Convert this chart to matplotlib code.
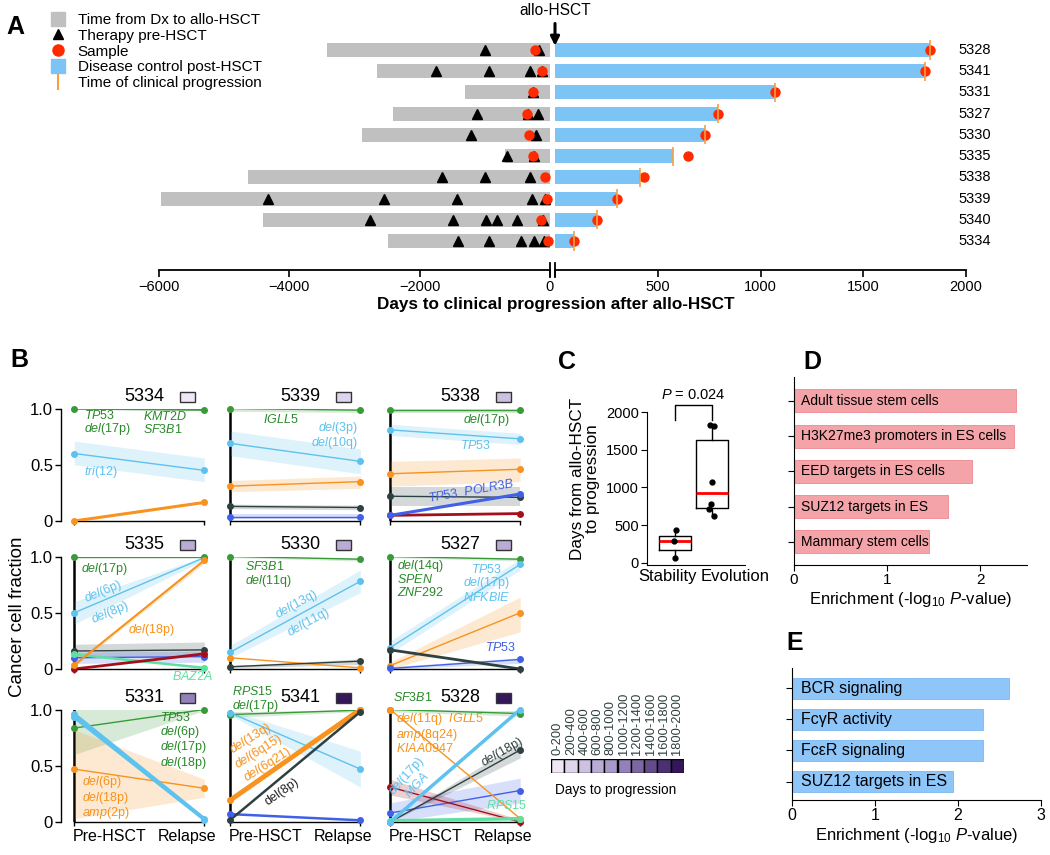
import numpy as np
import matplotlib
matplotlib.use('Agg')
import matplotlib.pyplot as plt
from matplotlib import font_manager
from matplotlib.lines import Line2D
from matplotlib.patches import Rectangle
from matplotlib.colors import LinearSegmentedColormap

plt.rcParams['font.family'] = ['Liberation Sans', 'DejaVu Sans']
plt.rcParams['mathtext.fontset'] = 'custom'
plt.rcParams['mathtext.rm'] = 'Liberation Sans'
plt.rcParams['mathtext.it'] = 'Liberation Sans:italic'
plt.rcParams['mathtext.bf'] = 'Liberation Sans:bold'

_names = {f.name for f in font_manager.fontManager.ttflist}
NARROW = 'Liberation Sans Narrow' in _names
NFAM = ['Liberation Sans Narrow', 'Liberation Sans'] if NARROW else ['Liberation Sans']


def nsize(narrow_size, normal_size):
    return narrow_size if NARROW else normal_size


# ---------------- Panel A data ----------------
patients_A = ['5328', '5341', '5331', '5327', '5330', '5335', '5338', '5339', '5340', '5334']
dx_start = [-3416, -2651, -1305, -2411, -2892, -688, -4628, -5968, -4404, -2488]
progression = [1823, 1801, 1069, 793, 730, 576, 414, 304, 203, 94]
sample_pre = [-234, -125, -263, -358, -321, -263, -72, -41, -132, -31]
sample_post = [1823, 1801, 1069, 793, 730, 648, 433, 304, 203, 94]
therapy_5328 = [-992, -176]
therapy_5341 = [-1757, -940, -307, -118]
therapy_5331 = [-255]
therapy_5327 = [-1116, -336, -183]
therapy_5330 = [-1210, -212]
therapy_5335 = [-657, -250]
therapy_5338 = [-1662, -999, -301]
therapy_5339 = [-4322, -2553, -1432, -270, -81]
therapy_5340 = [-2757, -1493, -984, -806, -505, -107]
therapy_5334 = [-1417, -933, -438, -244, -92]
therapy = [therapy_5328, therapy_5341, therapy_5331, therapy_5327, therapy_5330,
           therapy_5335, therapy_5338, therapy_5339, therapy_5340, therapy_5334]

# ---------------- Panel B data ----------------
# (clone, CCF pre-HSCT, CCF relapse, band (pre_lo, pre_hi, rel_lo, rel_hi))
ccf_5334 = [('lblue', 0.60, 0.45, (0.50, 0.71, 0.35, 0.56)),
            ('green', 1.00, 0.99, None),
            ('orange', 0.00, 0.165, None)]
ccf_5339 = [('lblue', 0.69, 0.53, (0.58, 0.80, 0.42, 0.64)),
            ('orange', 0.31, 0.35, (0.26, 0.36, 0.29, 0.40)),
            ('dgrey', 0.13, 0.12, (0.11, 0.15, 0.10, 0.14)),
            ('blue', 0.04, 0.04, (0.02, 0.06, 0.02, 0.06)),
            ('green', 1.00, 0.985, (0.975, 1.0, 0.965, 1.0))]
ccf_5338 = [('green', 0.99, 0.99, (0.96, 1.0, 0.96, 1.0)),
            ('lblue', 0.81, 0.73, (0.76, 0.86, 0.68, 0.78)),
            ('orange', 0.42, 0.46, (0.31, 0.53, 0.35, 0.56)),
            ('dgrey', 0.22, 0.21, (0.13, 0.30, 0.13, 0.30)),
            ('dred', 0.05, 0.066, None),
            ('blue', 0.05, 0.24, None)]
ccf_5335 = [('dgrey', 0.16, 0.17, (0.10, 0.22, 0.11, 0.24)),
            ('blue', 0.10, 0.11, (0.05, 0.15, 0.06, 0.16)),
            ('lblue', 0.50, 0.99, (0.40, 0.60, 0.97, 1.0)),
            ('green', 1.00, 1.00, None),
            ('mint', 0.13, 0.01, None),
            ('dred', 0.00, 0.135, None),
            ('orange', 0.035, 0.965, (0.02, 0.05, 0.94, 0.99))]
ccf_5330 = [('green', 1.00, 0.976, (0.99, 1.0, 0.96, 0.99)),
            ('lblue', 0.15, 0.78, (0.10, 0.21, 0.68, 0.88)),
            ('orange', 0.10, 0.01, None),
            ('dgrey', 0.02, 0.07, (0.01, 0.03, 0.04, 0.09))]
ccf_5327 = [('green', 1.00, 0.976, (0.99, 1.0, 0.96, 0.99)),
            ('lblue', 0.19, 0.93, (0.14, 0.25, 0.88, 0.98)),
            ('orange', 0.03, 0.50, (0.00, 0.06, 0.33, 0.64)),
            ('blue', 0.005, 0.085, (0.0, 0.02, 0.05, 0.10)),
            ('dgrey', 0.17, 0.00, None)]
ccf_5331 = [('green', 0.835, 1.00, (0.60, 1.0, 0.99, 1.0)),
            ('orange', 0.47, 0.30, (0.03, 0.82, 0.22, 0.38)),
            ('lblue', 0.96, 0.03, (0.94, 0.98, 0.01, 0.05)),
            ('lblue', 0.93, 0.02, None)]
ccf_5341 = [('green', 0.955, 0.994, (0.93, 0.98, 0.98, 1.0)),
            ('lblue', 0.97, 0.47, (0.95, 0.99, 0.31, 0.63)),
            ('blue', 0.07, 0.015, None),
            ('orange', 0.195, 1.00, None),
            ('dgrey', 0.02, 0.98, None)]
ccf_5328 = [('green', 1.00, 0.964, (0.98, 1.0, 0.94, 0.99)),
            ('blue', 0.08, 0.28, (0.0, 0.17, 0.17, 0.39)),
            ('dred', 0.31, 0.00, (0.24, 0.38, 0.0, 0.02)),
            ('dgrey', 0.00, 0.64, (0.0, 0.0, 0.57, 0.71)),
            ('orange', 1.00, 0.03, None),
            ('mint', 0.01, 0.03, None),
            ('lblue', 0.00, 1.00, None)]

# ---------------- Panel C data ----------------
c_groups = ['Stability', 'Evolution']
c_stability = [60, 285, 430]
c_evolution = [1830, 1815, 1065, 780, 715, 625]

# ---------------- Panel D / E data ----------------
d_sets = ['Adult tissue stem cells', 'H3K27me3 promoters in ES cells',
          'EED targets in ES cells', 'SUZ12 targets in ES', 'Mammary stem cells']
d_vals = [2.38, 2.36, 1.91, 1.65, 1.45]
e_sets = ['BCR signaling', 'Fc\u03b3R activity', 'Fc\u03b5R signaling', 'SUZ12 targets in ES']
e_vals = [2.62, 2.30, 2.30, 1.94]

day_bins = ['0-200', '200-400', '400-600', '600-800', '800-1000', '1000-1200',
            '1200-1400', '1400-1600', '1600-1800', '1800-2000']

# ---------------- styles ----------------
W, H = 1050, 855
fig = plt.figure(figsize=(W / 100, H / 100), dpi=100)


def px_ax(l, t, r, b):
    return fig.add_axes([l / W, 1 - b / H, (r - l) / W, (b - t) / H])


def narrow_ticks(ax, axis, size):
    labs = ax.get_xticklabels() if axis == 'x' else ax.get_yticklabels()
    for t in labs:
        t.set_fontfamily(NFAM)
        t.set_fontsize(size)


GREY = '#c0c0c0'
BLUE_A = '#7cc3f6'
RED = '#ff2a00'
ORANGE_A = '#f5a040'

# ================= Panel A =================
ya = np.arange(len(patients_A))
axL = px_ax(159, 35, 550, 270)
axR = px_ax(555, 35, 966, 270)
for ax in (axL, axR):
    ax.set_ylim(9 + 29 / 21.2, -15 / 21.2)
    for s in ('top', 'right', 'left'):
        ax.spines[s].set_visible(False)
    ax.spines['bottom'].set_linewidth(1.3)
    ax.set_yticks([])
    ax.tick_params(axis='x', direction='out', length=5, width=1.2, pad=2)
    ax.patch.set_visible(False)
axL.set_xlim(-6000, 0)
axL.set_xticks([-6000, -4000, -2000, 0])
axR.set_xlim(0, 2000)
axR.set_xticks([0, 500, 1000, 1500, 2000])
axR.set_xticklabels(['', '500', '1000', '1500', '2000'])
narrow_ticks(axL, 'x', nsize(12, 10.5))
narrow_ticks(axR, 'x', nsize(12, 10.5))

axL.barh(ya, -np.array(dx_start), left=dx_start, height=0.66, color=GREY, zorder=1)
axR.barh(ya, progression, left=0, height=0.66, color=BLUE_A, zorder=1)
for i, t in enumerate(therapy):
    axL.plot(t, [ya[i]] * len(t), '^', color='k', ms=7, zorder=3, clip_on=False)
axL.plot(sample_pre, ya, 'o', color=RED, ms=7.5, mec='none', zorder=5, clip_on=False)
axR.plot(sample_post, ya, 'o', color=RED, ms=7.5, mec='none', zorder=4, clip_on=False)
axR.vlines(progression, ya - 0.45, ya + 0.45, color=ORANGE_A, lw=1.2, zorder=6)
for ax in (axL, axR):
    ax.plot([0, 0], [-0.03, 0.03], color='k', lw=1.3, transform=ax.get_xaxis_transform(),
            clip_on=False)
for i, p in enumerate(patients_A):
    axR.text(1961, ya[i], p, va='center', ha='left', fontsize=nsize(12.5, 10.5),
             family=NFAM, clip_on=False)
axR.annotate('', xy=(0, -0.2), xytext=(0, -1.25), annotation_clip=False,
             arrowprops=dict(arrowstyle='-|>', color='k', lw=2.2, mutation_scale=13,
                             shrinkA=0, shrinkB=0))
axR.text(0, -1.85, 'allo-HSCT', ha='center', va='center', fontsize=nsize(12.5, 11.2),
         family=NFAM, clip_on=False)
fig.text(556 / W, 1 - 305 / H, 'Days to clinical progression after allo-HSCT',
         ha='center', va='center', fontsize=12.3, fontweight='bold')

handles = [Line2D([], [], ls='none', marker='s', ms=10, color=GREY),
           Line2D([], [], ls='none', marker='^', ms=7, color='k'),
           Line2D([], [], ls='none', marker='o', ms=8, color=RED),
           Line2D([], [], ls='none', marker='s', ms=10, color=BLUE_A),
           Line2D([], [], ls='none', marker='|', ms=12, mew=1.5, color=ORANGE_A)]
fig.legend(handles, ['Time from Dx to allo-HSCT', 'Therapy pre-HSCT', 'Sample',
                     'Disease control post-HSCT', 'Time of clinical progression'],
           loc='upper left', bbox_to_anchor=(50 / W, 1 - 13 / H), frameon=False,
           prop=dict(family=NFAM, size=nsize(13, 11)), handlelength=1.0,
           handletextpad=0.8, labelspacing=0.12, borderaxespad=0, borderpad=0)

# ================= Panel B =================
clone_colors = {'green': '#3a9a3a', 'lblue': '#5ec2ee', 'orange': '#f7931e',
                'dgrey': '#2f4040', 'blue': '#4060e8', 'dred': '#a3101c', 'mint': '#5fe0a0',
                'black': '#222222'}
text_colors = dict(clone_colors, green='#2a8a2a')
lw_B = {'5334': {'orange': 2.2, 'green': 1.8}, '5338': {'blue': 2.2, 'dred': 2.0},
        '5335': {'dred': 2.0, 'mint': 1.8, 'orange': 1.5}, '5327': {'dgrey': 2.0},
        '5331': {'lblue': 2.2}, '5341': {'orange': 3.5, 'dgrey': 1.8, 'blue': 1.8},
        '5328': {'lblue': 2.5, 'mint': 2.5}}

I = lambda s: r'$\mathit{' + s + '}$'
DEL = I('del')
labels_B = {
    '5334': [(I('TP53') + '\n' + DEL + '(17p)', 0.075, 0.87, 'green', 0, 'left'),
             (I('KMT2D') + '\n' + I('SF3B1'), 0.53, 0.87, 'green', 0, 'left'),
             (I('tri') + '(12)', 0.075, 0.44, 'lblue', 0, 'left')],
    '5339': [(I('IGLL5'), 0.25, 0.90, 'green', 0, 'left'),
             (DEL + '(3p)\n' + DEL + '(10q)', 0.98, 0.76, 'lblue', 0, 'right')],
    '5338': [(DEL + '(17p)', 0.92, 0.90, 'green', 0, 'right'),
             (I('TP53'), 0.54, 0.67, 'lblue', 0, 'left'),
             (I('TP53') + '  ' + I('POLR3B'), 0.62, 0.27, 'blue', 10, 'center')],
    '5335': [(DEL + '(17p)', 0.05, 0.89, 'green', 0, 'left'),
             (DEL + '(6p)', 0.22, 0.69, 'lblue', 23, 'center'),
             (DEL + '(8p)', 0.28, 0.50, 'lblue', 23, 'center'),
             (DEL + '(18p)', 0.41, 0.35, 'orange', 0, 'left'),
             (I('BAZ2A'), 0.75, -0.07, 'mint', 0, 'left')],
    '5330': [(I('SF3B1') + '\n' + DEL + '(11q)', 0.11, 0.84, 'green', 0, 'left'),
             (DEL + '(13q)', 0.51, 0.575, 'lblue', 29, 'center'),
             (DEL + '(11q)', 0.60, 0.41, 'lblue', 29, 'center')],
    '5327': [(DEL + '(14q)\n' + I('SPEN') + '\n' + I('ZNF292'), 0.05, 0.805, 'green', 0, 'left'),
             (I('TP53') + '\n' + DEL + '(17p)\n' + I('NFKBIE'), 0.745, 0.76, 'lblue', 0, 'center'),
             (I('TP53'), 0.97, 0.19, 'blue', 0, 'right')],
    '5331': [(I('TP53') + '\n' + DEL + '(6p)\n' + DEL + '(17p)\n' + DEL + '(18p)', 0.66, 0.72,
              'green', 0, 'left'),
             (DEL + '(6p)\n' + DEL + '(18p)\n' + I('amp') + '(2p)', 0.06, 0.215, 'orange', 0, 'left')],
    '5341': [(I('RPS15') + '\n' + DEL + '(17p)', 0.015, 1.09, 'green', 0, 'left'),
             (DEL + '(13q)\n' + DEL + '(6q15)\n' + DEL + '(6q21)', 0.22, 0.62, 'orange', 32, 'center'),
             ('del(8p)', 0.40, 0.265, 'black', 35, 'center')],
    '5328': [(I('SF3B1'), 0.02, 1.11, 'green', 0, 'left'),
             (DEL + '(11q)  ' + I('IGLL5') + '\n' + I('amp') + '(8q24)\n' + I('KIAA0947'),
              0.045, 0.79, 'orange', 0, 'left'),
             (DEL + '(18p)', 0.86, 0.62, 'dgrey', 30, 'center'),
             (DEL + '(17p)\n' + I('MGA'), 0.16, 0.37, 'lblue', 48, 'center'),
             (I('RPS15'), 1.05, 0.15, 'mint', 0, 'right')],
}
ccf_B = {'5334': ccf_5334, '5339': ccf_5339, '5338': ccf_5338, '5335': ccf_5335,
         '5330': ccf_5330, '5327': ccf_5327, '5331': ccf_5331, '5341': ccf_5341,
         '5328': ccf_5328}
grid_ids = [['5334', '5339', '5338'], ['5335', '5330', '5327'], ['5331', '5341', '5328']]

cmap = LinearSegmentedColormap.from_list('days', ['#f0e7f6', '#a08fc6', '#34175a'])
bin_colors = [cmap(v) for v in np.linspace(0, 1, len(day_bins))]

col_x0 = [74.3, 230.4, 390.2]
row_y0 = [521, 669, 822]
UX, UY = 130.0, 112.5
for r in range(3):
    for c in range(3):
        pid = grid_ids[r][c]
        ax = px_ax(col_x0[c] - 0.1 * UX, row_y0[r] - UY, col_x0[c] + 1.03 * UX, row_y0[r])
        ax.set_xlim(-0.1, 1.03)
        ax.set_ylim(0, 1)
        ax.patch.set_visible(False)
        for s in ('top', 'right'):
            ax.spines[s].set_visible(False)
        ax.spines['bottom'].set_bounds(0, 1)
        ax.spines['bottom'].set_linewidth(1.0)
        ax.set_xticks([0, 1])
        ax.set_xticklabels([])
        ax.tick_params(axis='x', length=3, width=1, pad=3)
        if r == 2:
            ax.text(-0.01, -0.065, 'Pre-HSCT', ha='left', va='top', family=NFAM,
                    fontsize=nsize(13.5, 11.5), clip_on=False)
            ax.text(1.09, -0.065, 'Relapse', ha='right', va='top', family=NFAM,
                    fontsize=nsize(13.5, 11.5), clip_on=False)
        if c == 0:
            ax.spines['left'].set_bounds(0, 1)
            ax.spines['left'].set_linewidth(1.0)
            ax.set_yticks([0, 0.5, 1])
            ax.set_yticklabels(['0', '0.5', '1.0'], fontsize=12)
            ax.tick_params(axis='y', length=4, width=1, pad=2)
        else:
            ax.spines['left'].set_visible(False)
            ax.set_yticks([])
        if pid != '5334':
            ax.axvline(0, 0, 1, color='k', lw=1.8, zorder=1)
        for ck, pre, rel, band in ccf_B[pid]:
            col = clone_colors[ck]
            if band is not None:
                ax.fill_between([0, 1], [band[0], band[2]], [band[1], band[3]],
                                color=col, alpha=0.2, lw=0, zorder=2)
            lw = lw_B.get(pid, {}).get(ck, 1.0)
            ax.plot([0, 1], [pre, rel], '-', color=col, lw=lw, zorder=3, solid_capstyle='butt')
            ax.plot([0, 1], [pre, rel], 'o', color=col, ms=4, zorder=4, clip_on=False)
        for txt, tx, ty, ck, rot, ha in labels_B[pid]:
            ax.text(tx, ty, txt, color=text_colors[ck], rotation=rot, ha=ha, va='center',
                    multialignment=ha if ha != 'center' else 'center', fontsize=9,
                    linespacing=0.95, rotation_mode='anchor', clip_on=False, zorder=6)
        dpost = sample_post[patients_A.index(pid)]
        ax.text(0.54, 1 + 12 / UY, pid, ha='center', va='center', fontsize=13)
        ax.add_patch(Rectangle((0.81, 1 + 7 / UY), 0.12, 10 / UY,
                               facecolor=bin_colors[int(dpost // 200)], edgecolor='#333333',
                               lw=1, clip_on=False))
fig.text(18 / W, 1 - 617 / H, 'Cancer cell fraction', rotation=90, ha='center',
         va='center', fontsize=13.5)

# ================= Panel C =================
axC = px_ax(647, 412, 745, 565)
axC.set_ylim(-30, 2000)
axC.set_xlim(0.243, 2.89)
axC.boxplot([c_stability, c_evolution], positions=[1, 2], widths=0.87, showcaps=False,
            showfliers=False, whis=(0, 100),
            medianprops=dict(color='red', lw=2), boxprops=dict(color='k', lw=1),
            whiskerprops=dict(color='k', lw=1))
jit_s = [0.0, -0.02, 0.03]
jit_e = [-0.06, 0.06, 0.0, -0.02, -0.09, 0.05]
axC.plot(np.ones(len(c_stability)) + jit_s, c_stability, 'o', color='k', ms=3.5, zorder=5)
axC.plot(2 * np.ones(len(c_evolution)) + jit_e, c_evolution, 'o', color='k', ms=3.5, zorder=5)
for s in ('top', 'right'):
    axC.spines[s].set_visible(False)
axC.set_yticks([0, 500, 1000, 1500, 2000])
axC.tick_params(axis='y', length=4, pad=2)
narrow_ticks(axC, 'y', nsize(12, 10.5))
axC.set_xticks([])
axC.text(0.80, -80, c_groups[0], ha='center', va='top', fontsize=12, clip_on=False)
axC.text(2.63, -80, c_groups[1], ha='center', va='top', fontsize=12, clip_on=False)
axC.plot([1, 1, 2, 2], [1898, 2097, 2097, 1898], color='k', lw=1, clip_on=False)
axC.text(1.5, 2230, '$P$ = 0.024', ha='center', va='center', fontsize=10.5, clip_on=False)
fig.text(585 / W, 1 - 479 / H, 'Days from allo-HSCT\nto progression', rotation=90,
         ha='center', va='center', fontsize=nsize(14, 12.3), family=NFAM,
         multialignment='center', linespacing=1.0)

# color key
axK = px_ax(551, 759, 684, 773)
axK.bar(np.arange(len(day_bins)), np.ones(len(day_bins)), width=1, color=bin_colors,
        edgecolor='k', lw=1)
axK.set_xlim(-0.5, len(day_bins) - 0.5)
axK.set_ylim(0, 1)
axK.axis('off')
for i, b in enumerate(day_bins):
    axK.text(i, 1.27, b, rotation=90, ha='center', va='bottom', fontsize=9.3, color='#2f3f3f')
fig.text(616 / W, 1 - 790 / H, 'Days to progression', ha='center', va='center',
         fontsize=nsize(11.5, 9.8), family=NFAM)

# ================= Panel D =================
axD = px_ax(794, 377, 1027, 565)
axD.barh(np.arange(len(d_vals)), d_vals, height=0.65, color='#f4a3a8', edgecolor='#ee8890',
         lw=0.6)
axD.set_xlim(0, 2.5)
axD.set_ylim(len(d_vals) - 1 + 0.66, -0.68)
for i, s in enumerate(d_sets):
    axD.text(0.072, i, s, va='center', ha='left', fontsize=10)
axD.set_yticks(np.arange(len(d_vals)))
axD.set_yticklabels([])
axD.set_xticks([0, 1, 2])
axD.tick_params(labelsize=11, length=4, pad=2)
for s in ('top', 'right'):
    axD.spines[s].set_visible(False)
axD.set_xlabel(r'Enrichment (-log$_{10}$ $P$-value)', fontsize=12, labelpad=2)

# ================= Panel E =================
axE = px_ax(792, 668, 1041, 800)
axE.barh(np.arange(len(e_vals)), e_vals, height=0.67, color='#8fc6f9', edgecolor='#7ab8f0',
         lw=0.6)
axE.set_xlim(0, 3)
axE.set_ylim(len(e_vals) - 1 + 0.59, -0.65)
for i, s in enumerate(e_sets):
    axE.text(0.105, i, s, va='center', ha='left', fontsize=11.5)
axE.set_yticks(np.arange(len(e_vals)))
axE.set_yticklabels([])
axE.set_xticks([0, 1, 2, 3])
axE.tick_params(labelsize=11.5, length=4, pad=2)
for s in ('top', 'right'):
    axE.spines[s].set_visible(False)
axE.set_xlabel(r'Enrichment (-log$_{10}$ $P$-value)', fontsize=12, labelpad=2)

# panel letters
for lab, x, y in [('A', 15, 27), ('B', 19, 360), ('C', 567, 362), ('D', 812, 362), ('E', 795, 643)]:
    fig.text(x / W, 1 - y / H, lab, ha='center', va='center', fontsize=18, fontweight='bold')

fig.savefig('out.png', dpi=100)
